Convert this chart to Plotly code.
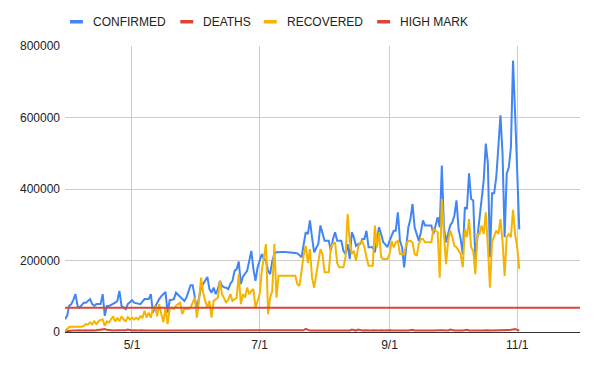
import pandas as pd
import plotly.graph_objects as go

START_DATE = "2020-03-30"

# values in thousands, one per day starting START_DATE
CONFIRMED_K = [
    36, 45, 73, 78, 90, 106, 73, 68, 75, 82,
    82, 86, 92, 78, 73, 78, 78, 78, 106, 45,
    73, 73, 76, 78, 82, 87, 115, 73, 68, 64,
    78, 84, 89, 82, 80, 78, 78, 85, 92, 92,
    92, 106, 54, 70, 82, 92, 100, 106, 112, 54,
    89, 90, 92, 110, 104, 96, 90, 87, 96, 115,
    131, 131, 100, 64, 96, 124, 134, 145, 154, 120,
    110, 124, 106, 120, 143, 129, 125, 124, 120, 135,
    143, 171, 176, 197, 134, 155, 165, 171, 199, 227,
    176, 143, 181, 200, 218, 204, 199, 171, 162, 199,
    218, 223, 224, 224, 224, 224, 224, 224, 223, 222,
    221, 220, 215, 209, 245, 279, 274, 312, 265, 223,
    235, 246, 298, 279, 255, 255, 255, 227, 260, 279,
    255, 255, 255, 227, 218, 246, 204, 279, 265, 241,
    246, 246, 260, 260, 283, 237, 237, 237, 223, 265,
    293, 274, 251, 245, 237, 255, 270, 283, 283, 335,
    255, 237, 181, 241, 293, 316, 358, 293, 270, 255,
    279, 312, 298, 298, 298, 298, 274, 302, 321, 293,
    466, 293, 251, 274, 298, 307, 326, 368, 288, 260,
    218, 349, 344, 444, 372, 368, 204, 265, 321, 358,
    424, 527, 471, 209, 388, 388, 433, 517, 606, 499,
    265, 443, 461, 517, 759, 611, 443, 287,
]

DEATHS_K = [
    2, 3, 3, 4, 4, 4, 5, 5, 4, 5,
    5, 4, 5, 5, 4, 5, 5, 6, 7, 8,
    6, 5, 5, 4, 5, 5, 4, 5, 4, 5,
    7, 5, 4, 5, 4, 4, 5, 4, 5, 4,
    4, 5, 4, 4, 5, 4, 4, 3, 4, 4,
    4, 3, 4, 4, 5, 4, 4, 3, 4, 4,
    4, 4, 3, 4, 4, 4, 5, 4, 4, 4,
    3, 4, 4, 4, 4, 3, 4, 4, 4, 4,
    4, 4, 3, 4, 4, 4, 4, 4, 5, 4,
    4, 4, 4, 4, 5, 4, 4, 4, 4, 4,
    4, 4, 4, 5, 4, 4, 4, 4, 4, 4,
    4, 4, 5, 4, 5, 9, 6, 4, 4, 5,
    4, 4, 4, 5, 4, 5, 4, 4, 4, 5,
    4, 4, 5, 4, 5, 4, 4, 7, 5, 4,
    7, 5, 4, 5, 4, 4, 4, 5, 4, 4,
    4, 5, 4, 4, 5, 4, 5, 4, 4, 5,
    4, 4, 5, 4, 4, 5, 6, 4, 5, 4,
    4, 5, 4, 4, 5, 4, 4, 5, 4, 5,
    5, 4, 5, 4, 7, 5, 4, 4, 5, 4,
    4, 5, 6, 4, 5, 4, 4, 5, 4, 4,
    5, 4, 5, 4, 4, 5, 4, 6, 5, 4,
    5, 4, 5, 6, 7, 8, 6, 4,
]

RECOVERED_K = [
    3, 8, 14, 15, 15, 15, 14, 15, 15, 17,
    22, 21, 27, 21, 30, 22, 30, 34, 35, 17,
    30, 27, 35, 44, 29, 40, 30, 44, 35, 30,
    42, 35, 40, 35, 40, 35, 44, 40, 59, 40,
    54, 40, 64, 73, 44, 78, 50, 27, 68, 22,
    64, 68, 64, 73, 78, 82, 50, 64, 64, 64,
    68, 80, 96, 40, 87, 152, 110, 87, 68, 87,
    40, 87, 92, 96, 143, 106, 94, 82, 91, 106,
    87, 92, 96, 162, 78, 106, 96, 124, 106, 115,
    120, 68, 90, 106, 171, 210, 246, 50, 96, 115,
    246, 96, 157, 157, 157, 157, 157, 157, 157, 157,
    157, 134, 129, 171, 215, 241, 193, 232, 152, 124,
    160, 193, 232, 218, 167, 167, 167, 237, 246, 251,
    193, 181, 181, 181, 209, 330, 255, 218, 227, 199,
    237, 250, 255, 237, 209, 185, 185, 185, 298, 237,
    279, 209, 204, 204, 204, 218, 255, 237, 251, 255,
    218, 218, 218, 246, 255, 255, 251, 218, 213, 246,
    260, 260, 251, 251, 251, 251, 288, 284, 279, 152,
    372, 274, 190, 255, 284, 265, 241, 237, 227, 218,
    181, 288, 265, 316, 237, 227, 162, 274, 274, 298,
    274, 335, 237, 124, 251, 269, 284, 274, 316, 255,
    157, 265, 274, 265, 342, 274, 237, 176,
]

HIGH_MARK_DATES = ["2020-03-30", "2020-12-01"]
HIGH_MARK = [68000, 68000]

SERIES_NAMES = ["CONFIRMED", "DEATHS", "RECOVERED", "HIGH MARK"]
TICK_DATES = ["2020-05-01", "2020-07-01", "2020-09-01", "2020-11-01"]
TICK_LABELS = ["5/1", "7/1", "9/1", "11/1"]
Y_TICKS = [0, 200000, 400000, 600000, 800000]

COLORS = ["#4285F4", "#DB4437", "#F4B400", "#DB4437"]

dates = pd.date_range(START_DATE, periods=len(CONFIRMED_K), freq="D")

# page has an 8px body margin; size the figure so the plot area lands
# at x 62..580, y 46..332 of the 595x366 window
OFF = 8
W, H = 595 - OFF, 366 - OFF
L, R, T, B = 62 - OFF, 15, 46 - OFF, 34
PW, PH = W - L - R, H - T - B

fig = go.Figure()
for name, vals, col in [
    (SERIES_NAMES[0], CONFIRMED_K, COLORS[0]),
    (SERIES_NAMES[1], DEATHS_K, COLORS[1]),
    (SERIES_NAMES[2], RECOVERED_K, COLORS[2]),
]:
    fig.add_trace(go.Scatter(
        x=dates[:len(vals)], y=[v * 1000 for v in vals], mode="lines", name=name,
        line=dict(color=col, width=2), showlegend=False, hoverinfo="skip",
    ))
fig.add_trace(go.Scatter(
    x=HIGH_MARK_DATES, y=HIGH_MARK, mode="lines", name=SERIES_NAMES[3],
    line=dict(color=COLORS[3], width=2), showlegend=False, hoverinfo="skip",
))


def px_x(px):
    return (px - OFF - L) / PW


def px_y(py):
    return (H - B - (py - OFF)) / PH


# custom legend (short thick line swatches, like the original)
shapes = []
annotations = []
legend_x = [67, 178, 262, 376]
for name, col, lx in zip(SERIES_NAMES, COLORS, legend_x):
    shapes.append(dict(type="rect", xref="paper", yref="paper",
                       x0=px_x(lx), x1=px_x(lx + 13), y0=px_y(23.5), y1=px_y(20),
                       fillcolor=col, line=dict(width=0)))
    annotations.append(dict(text=name, xref="paper", yref="paper",
                            x=px_x(lx + 21), y=px_y(22), xanchor="left", yanchor="middle",
                            showarrow=False, font=dict(size=12, color="#222222")))

fig.update_layout(
    width=W, height=H,
    margin=dict(l=L, r=R, t=T, b=B),
    paper_bgcolor="white", plot_bgcolor="white",
    font=dict(family="Arial, Liberation Sans, sans-serif", size=12, color="#444444"),
    showlegend=False,
    hovermode=False,
    shapes=shapes,
    annotations=annotations,
    xaxis=dict(
        type="date", range=["2020-03-30", "2020-12-01"],
        tickvals=TICK_DATES, ticktext=TICK_LABELS,
        showgrid=True, gridcolor="#cccccc", gridwidth=1,
        showline=True, linecolor="#333333", linewidth=1,
        zeroline=False, ticks="", ticklabelstandoff=2,
        tickfont=dict(size=12, color="#222222"),
    ),
    yaxis=dict(
        range=[0, 800000], tickvals=Y_TICKS, ticktext=[str(v) for v in Y_TICKS],
        showgrid=True, gridcolor="#cccccc", gridwidth=1,
        zeroline=False, showline=False, ticks="", ticklabelstandoff=4,
        tickfont=dict(size=12, color="#222222"),
    ),
)

fig.write_html("out.html")
